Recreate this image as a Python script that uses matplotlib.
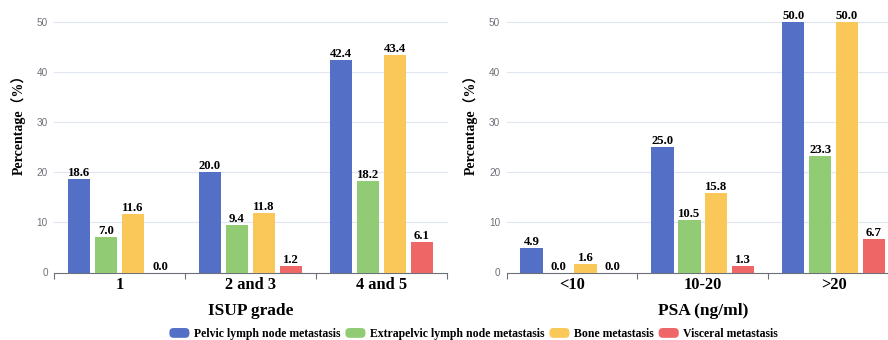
import matplotlib
matplotlib.use("Agg")
import matplotlib.pyplot as plt
from matplotlib.patches import Patch, FancyBboxPatch
from matplotlib.legend_handler import HandlerPatch

isup_categories = ["1", "2 and 3", "4 and 5"]
isup_pelvic = [18.6, 20.0, 42.4]
isup_extrapelvic = [7.0, 9.4, 18.2]
isup_bone = [11.6, 11.8, 43.4]
isup_visceral = [0.0, 1.2, 6.1]

psa_categories = ["<10", "10-20", ">20"]
psa_pelvic = [4.9, 25.0, 50.0]
psa_extrapelvic = [0.0, 10.5, 23.3]
psa_bone = [1.6, 15.8, 50.0]
psa_visceral = [0.0, 1.3, 6.7]

series_names = ["Pelvic lymph node metastasis", "Extrapelvic lymph node metastasis",
                "Bone metastasis", "Visceral metastasis"]
colors = ["#5470c6", "#91cc75", "#fac858", "#ee6666"]
y_ticks = [0, 10, 20, 30, 40, 50]

SERIF = "Liberation Serif"
SANS = "Liberation Sans"
AXIS_GRAY = "#6E7079"
GRID = "#E0E6F1"

W, H = 888, 340
fig = plt.figure(figsize=(W / 100, H / 100), dpi=100)


def px_axes(x0, x1, ytop, ybot):
    return fig.add_axes([x0 / W, 1 - ybot / H, (x1 - x0) / W, (ybot - ytop) / H])


def draw(ax, cats, series, xname, ylabel_x, xname_x):
    offsets = [-0.309, -0.103, 0.103, 0.309]
    width = 0.172
    xs = list(range(len(cats)))
    for k, vals in enumerate(series):
        pos = [x + offsets[k] for x in xs]
        bars = ax.bar(pos, vals, width=width, color=colors[k], zorder=3, linewidth=0)
        for b, v in zip(bars, vals):
            ax.annotate(f"{v:.1f}", (b.get_x() + b.get_width() / 2, v),
                        xytext=(0, 0), textcoords="offset points",
                        ha="center", va="bottom", fontsize=9.2,
                        fontweight="bold", family=SERIF, color="black", zorder=4)
    ax.set_xlim(-0.5, len(cats) - 0.5)
    ax.set_ylim(0, 50)
    ax.set_yticks(y_ticks)
    ax.set_yticklabels([str(t) for t in y_ticks], fontsize=7.2, color=AXIS_GRAY, family=SANS)
    ax.tick_params(axis="y", length=0, pad=4.5)
    for t in y_ticks[1:]:
        ax.axhline(t, color=GRID, lw=0.8, zorder=1, clip_on=False)
    ax.set_xticks(xs)
    ax.set_xticklabels(cats, fontsize=11.8, fontweight="bold", family=SERIF)
    ax.set_xticks([x - 0.5 for x in xs] + [len(cats) - 0.5], minor=True)
    ax.tick_params(axis="x", which="major", length=0, pad=3.5)
    ax.tick_params(axis="x", which="minor", length=4, width=0.8, color=AXIS_GRAY)
    for s in ["top", "right", "left"]:
        ax.spines[s].set_visible(False)
    ax.spines["bottom"].set_color(AXIS_GRAY)
    ax.spines["bottom"].set_linewidth(0.8)
    ax.set_facecolor("none")
    fig.text(xname_x / W, 1 - 311 / H, xname, ha="center", va="center",
             fontsize=12.5, fontweight="bold", family=SERIF)
    fig.text(ylabel_x / W, 1 - 121 / H, "Percentage\uff08%\uff09", ha="center", va="center",
             rotation=90, fontsize=10, fontweight="bold",
             family=[SERIF, "Noto Sans CJK SC"])


ax1 = px_axes(54, 447, 22, 272.5)
draw(ax1, isup_categories, [isup_pelvic, isup_extrapelvic, isup_bone, isup_visceral],
     "ISUP grade", 18, 250.5)
ax2 = px_axes(506.5, 899, 22, 272.5)
draw(ax2, psa_categories, [psa_pelvic, psa_extrapelvic, psa_bone, psa_visceral],
     "PSA (ng/ml)", 470, 703)


class RoundHandler(HandlerPatch):
    def create_artists(self, legend, orig_handle, xdescent, ydescent, width, height,
                       fontsize, trans):
        p = FancyBboxPatch((-xdescent, -ydescent), width, height,
                           boxstyle="round,pad=0,rounding_size=3",
                           facecolor=orig_handle.get_facecolor(), edgecolor="none",
                           transform=trans)
        return [p]


handles = [Patch(facecolor=c) for c in colors]
fig.legend(handles, series_names, loc="center", bbox_to_anchor=(473.5 / W, 1 - 334 / H),
           ncol=4, frameon=False, handler_map={Patch: RoundHandler()},
           prop={"family": SERIF, "weight": "bold", "size": 8.5},
           handlelength=1.7, handleheight=0.9, handletextpad=0.35,
           columnspacing=0.45, borderpad=0, borderaxespad=0)

fig.savefig("out.png", dpi=100)
